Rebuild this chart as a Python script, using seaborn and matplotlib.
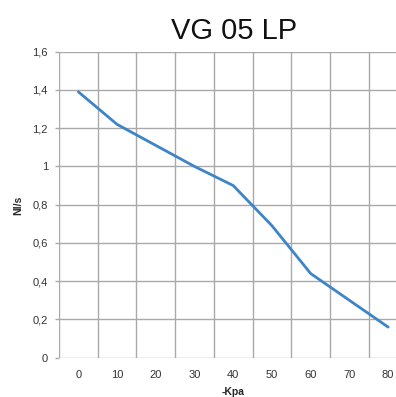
import matplotlib
matplotlib.use("Agg")
import matplotlib.pyplot as plt
import seaborn as sns
import pandas as pd
import numpy as np

# Flow rate versus vacuum level for the VG 05 LP generator
kpa = [0, 10, 20, 30, 40, 50, 60, 70, 80]
flow = [1.39, 1.22, 1.11, 1.0, 0.90, 0.69, 0.44, 0.30, 0.16]
y_ticks = [0, 0.2, 0.4, 0.6, 0.8, 1.0, 1.2, 1.4, 1.6]
y_tick_labels = ["0", "0,2", "0,4", "0,6", "0,8", "1", "1,2", "1,4", "1,6"]
x_tick_labels = ["0", "10", "20", "30", "40", "50", "60", "70", "80"]

sns.set_style("white")
plt.rcParams["font.family"] = ["Liberation Sans", "DejaVu Sans"]

df = pd.DataFrame({"kpa": kpa, "flow": flow})

fig = plt.figure(figsize=(3.96, 3.97), dpi=100)
ax = fig.add_axes([59 / 396, 39.3 / 397, 348.5 / 396, 306 / 397])

sns.lineplot(data=df, x="kpa", y="flow", ax=ax, color="#3d85c6",
             linewidth=2.0, zorder=3)

grid_col = "#a9a9a9"
ax.set_xlim(-5, 85)
ax.set_ylim(0, 1.6)

# category-style axis: grid at the category boundaries, labels at centers
bounds = np.arange(-5, 86, 10)
for b in bounds:
    ax.axvline(b, color=grid_col, linewidth=1.0, zorder=1)
for t in y_ticks:
    ax.axhline(t, color=grid_col, linewidth=1.0, zorder=1)

ax.set_xticks(kpa)
ax.set_xticklabels(x_tick_labels)
ax.set_yticks(y_ticks)
ax.set_yticklabels(y_tick_labels)
ax.tick_params(axis="x", length=0, pad=9, labelsize=8, colors="#333333")
ax.tick_params(axis="y", length=3, width=1.0, color=grid_col, pad=5,
               labelsize=8, colors="#333333")
ax.tick_params(axis="y", left=True)

for s in ax.spines.values():
    s.set_visible(False)

ax.set_xlabel("-Kpa", fontsize=7.5, fontweight="bold", va="center")
ax.set_ylabel("Nl/s", fontsize=7.5, fontweight="bold", va="center")
ax.xaxis.set_label_coords((233 - 59) / 348.5, -(392 - 357.7) / 306)
ax.yaxis.set_label_coords(-(59 - 18) / 348.5, (357.7 - 205) / 306)

fig.text(234 / 396, 1 - 31 / 397, "VG 05 LP", ha="center", va="center",
         fontsize=21, color="#111111")

fig.savefig("out.png", dpi=100)
